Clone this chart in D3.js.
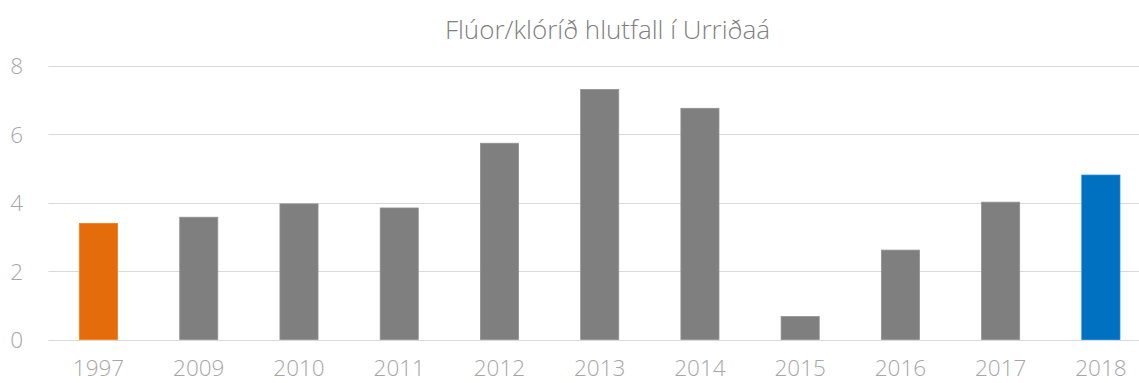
<!DOCTYPE html>
<html>
<head>
<meta charset="utf-8">
<script src="https://cdn.jsdelivr.net/npm/d3@7"></script>
<style>
  html, body { margin: 0; padding: 0; background: #fff; }
  svg { display: block; }
</style>
</head>
<body>
<svg id="chart" width="1139" height="383"></svg>
<script>
// Fluoride/chloride ratio in Urriðaá by year
const years = ["1997", "2009", "2010", "2011", "2012", "2013", "2014", "2015", "2016", "2017", "2018"];
const ratios = [3.39, 3.57, 3.96, 3.84, 5.73, 7.30, 6.75, 0.67, 2.61, 4.01, 4.80];
const barColors = ["#E46C0A", "#7F7F7F", "#7F7F7F", "#7F7F7F", "#7F7F7F", "#7F7F7F", "#7F7F7F", "#7F7F7F", "#7F7F7F", "#7F7F7F", "#0070C0"];
const yTicks = [0, 2, 4, 6, 8];
const title = "Flúor/klóríð hlutfall í Urriðaá";

const svg = d3.select("#chart");
const W = 1139, H = 383;
const plot = { left: 48.4, right: 1151, top: 65.5, bottom: 339.5 };

const x = d3.scaleBand()
  .domain(years)
  .range([plot.left, plot.right])
  .paddingInner(0.62)
  .paddingOuter(0.31);

const y = d3.scaleLinear()
  .domain([0, 8])
  .range([plot.bottom, plot.top]);

const font = "'Open Sans', 'DejaVu Sans', sans-serif";
const labelGrey = "#A6A6A6";

// gridlines
svg.append("g")
  .selectAll("line")
  .data(yTicks)
  .join("line")
  .attr("x1", plot.left)
  .attr("x2", W)
  .attr("y1", d => Math.round(y(d)) + 0.5)
  .attr("y2", d => Math.round(y(d)) + 0.5)
  .attr("stroke", "#D9D9D9")
  .attr("stroke-width", 1);

// bars
svg.append("g")
  .selectAll("rect")
  .data(years.map((yr, i) => ({ yr, v: ratios[i], c: barColors[i] })))
  .join("rect")
  .attr("x", d => x(d.yr))
  .attr("width", x.bandwidth())
  .attr("y", d => y(d.v))
  .attr("height", d => y(0) - y(d.v))
  .attr("fill", d => d.c)
  .attr("stroke", d => d3.color(d.c).brighter(0.35))
  .attr("stroke-width", 0.8);

// y axis labels
const yAxis = d3.axisLeft(y).tickValues(yTicks).tickSize(0).tickPadding(0);
const gy = svg.append("g")
  .attr("transform", `translate(23,0)`)
  .call(yAxis);
gy.select(".domain").remove();
gy.selectAll("text")
  .attr("font-family", font)
  .attr("font-weight", 300)
  .attr("font-size", 22.5)
  .attr("fill", labelGrey)
  .attr("dy", "0.36em");

// x axis labels
const xAxis = d3.axisBottom(x).tickSize(0).tickPadding(0);
const gx = svg.append("g")
  .attr("transform", `translate(0,${plot.bottom})`)
  .call(xAxis);
gx.select(".domain").remove();
gx.selectAll("text")
  .attr("font-family", font)
  .attr("font-weight", 300)
  .attr("font-size", 22.5)
  .attr("fill", labelGrey)
  .attr("dy", null)
  .attr("y", 36.5);

// title
svg.append("text")
  .attr("x", 607.5)
  .attr("y", 39)
  .attr("text-anchor", "middle")
  .attr("font-family", font)
  .attr("font-weight", 300)
  .attr("font-size", 26)
  .attr("fill", "#7F7F7F")
  .text(title);
</script>
</body>
</html>
